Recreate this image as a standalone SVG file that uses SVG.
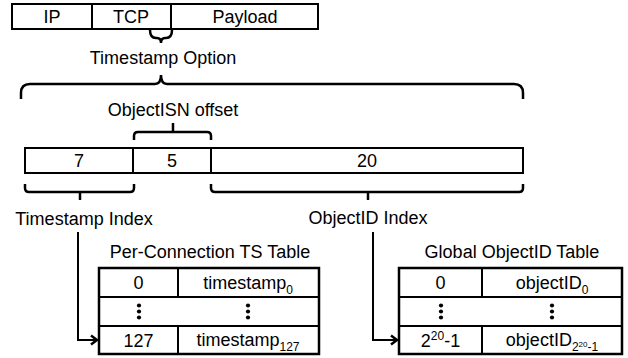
<svg xmlns="http://www.w3.org/2000/svg" width="628" height="358" viewBox="0 0 628 358">
<style>
text{font-family:"Liberation Sans",Arial,sans-serif;font-size:18px;fill:#000;text-anchor:middle}
.box{fill:#fff;stroke:#000;stroke-width:2}
.tbl{fill:#fff;stroke:#000;stroke-width:2.5}
.ln{fill:none;stroke:#000;stroke-width:2}
.br{fill:none;stroke:#000;stroke-width:2.5;stroke-linecap:butt}
.sub{font-size:12px}
.sub2{font-size:8px}
</style>
<defs>
<marker id="arr" markerUnits="userSpaceOnUse" markerWidth="12" markerHeight="12" refX="9" refY="6" orient="auto">
<path d="M3,1.5 L9,6 L3,10.5" fill="none" stroke="#000" stroke-width="2.5"/>
</marker>
<g id="dots"><circle cx="0" cy="-6" r="2.1"/><circle cx="0" cy="0" r="2.1"/><circle cx="0" cy="6" r="2.1"/></g>
</defs>
<rect width="628" height="358" fill="#fff"/>

<g id="packet">
<rect class="box" x="12" y="4" width="306" height="25"/>
<line class="ln" x1="92" y1="4" x2="92" y2="29"/>
<line class="ln" x1="171" y1="4" x2="171" y2="29"/>
<text x="52" y="23">IP</text>
<text x="131" y="23">TCP</text>
<text x="245" y="23">Payload</text>
</g>

<g id="timestamp-option">
<path class="br" d="M150,30 Q150,38 156,38 H157 Q161,38 161,43 Q161,38 165,38 H166 Q172,38 172,30"/>
<text x="163" y="64">Timestamp Option</text>
<path class="br" d="M21,99 V93 Q21,84 30,84 H155 Q161,84 161,75 Q161,84 167,84 H514 Q523,84 523,93 V99"/>
</g>

<g id="objectisn">
<text x="173" y="116">ObjectISN offset</text>
<path class="br" d="M134,140 V136 Q134,132 138,132 H207 Q211,132 211,136 V140 M173,132 V123"/>
</g>

<g id="fields">
<rect class="box" x="25" y="148" width="498" height="25"/>
<line class="ln" x1="133" y1="148" x2="133" y2="173"/>
<line class="ln" x1="211" y1="148" x2="211" y2="173"/>
<text x="79" y="167">7</text>
<text x="172" y="167">5</text>
<text x="367" y="167">20</text>
</g>

<g id="timestamp-index">
<path class="br" d="M25,184 V188 Q25,192 29,192 H130 Q134,192 134,188 V184 M80,192 V200"/>
<text x="84" y="225">Timestamp Index</text>
</g>

<g id="objectid-index">
<path class="br" d="M211,184 V188 Q211,192 215,192 H519 Q523,192 523,188 V184 M368,192 V200"/>
<text x="368" y="224">ObjectID Index</text>
</g>

<g id="ts-table">
<text x="210" y="258">Per-Connection TS Table</text>
<rect class="tbl" x="99" y="268" width="220" height="86"/>
<line class="ln" x1="99" y1="297" x2="319" y2="297"/>
<line class="ln" x1="99" y1="326" x2="319" y2="326"/>
<line class="ln" x1="178" y1="268" x2="178" y2="297"/>
<line class="ln" x1="178" y1="326" x2="178" y2="354"/>
<text x="138.5" y="289">0</text>
<text x="248" y="289">timestamp<tspan class="sub" dy="5">0</tspan></text>
<use href="#dots" x="139" y="311.5"/>
<use href="#dots" x="248" y="311.5"/>
<text x="138.5" y="347">127</text>
<text x="248" y="346">timestamp<tspan class="sub" dy="5">127</tspan></text>
</g>

<g id="objectid-table">
<text x="512" y="258">Global ObjectID Table</text>
<rect class="tbl" x="399" y="268" width="223" height="86"/>
<line class="ln" x1="399" y1="297" x2="622" y2="297"/>
<line class="ln" x1="399" y1="326" x2="622" y2="326"/>
<line class="ln" x1="482" y1="268" x2="482" y2="297"/>
<line class="ln" x1="482" y1="326" x2="482" y2="354"/>
<text x="440.5" y="289">0</text>
<text x="552" y="289">objectID<tspan class="sub" dy="5">0</tspan></text>
<use href="#dots" x="441" y="311.5"/>
<use href="#dots" x="552" y="311.5"/>
<text x="440.5" y="347">2<tspan class="sub" dy="-7">20</tspan><tspan dy="7">-1</tspan></text>
<text x="552" y="346">objectID<tspan class="sub" dy="5">2</tspan><tspan class="sub2" dy="-4">20</tspan><tspan class="sub" dy="4">-1</tspan></text>
</g>

<g id="connectors">
<path class="ln" d="M78,232 V340 H97" marker-end="url(#arr)"/>
<path class="ln" d="M373,232 V340 H397" marker-end="url(#arr)"/>
</g>
</svg>
